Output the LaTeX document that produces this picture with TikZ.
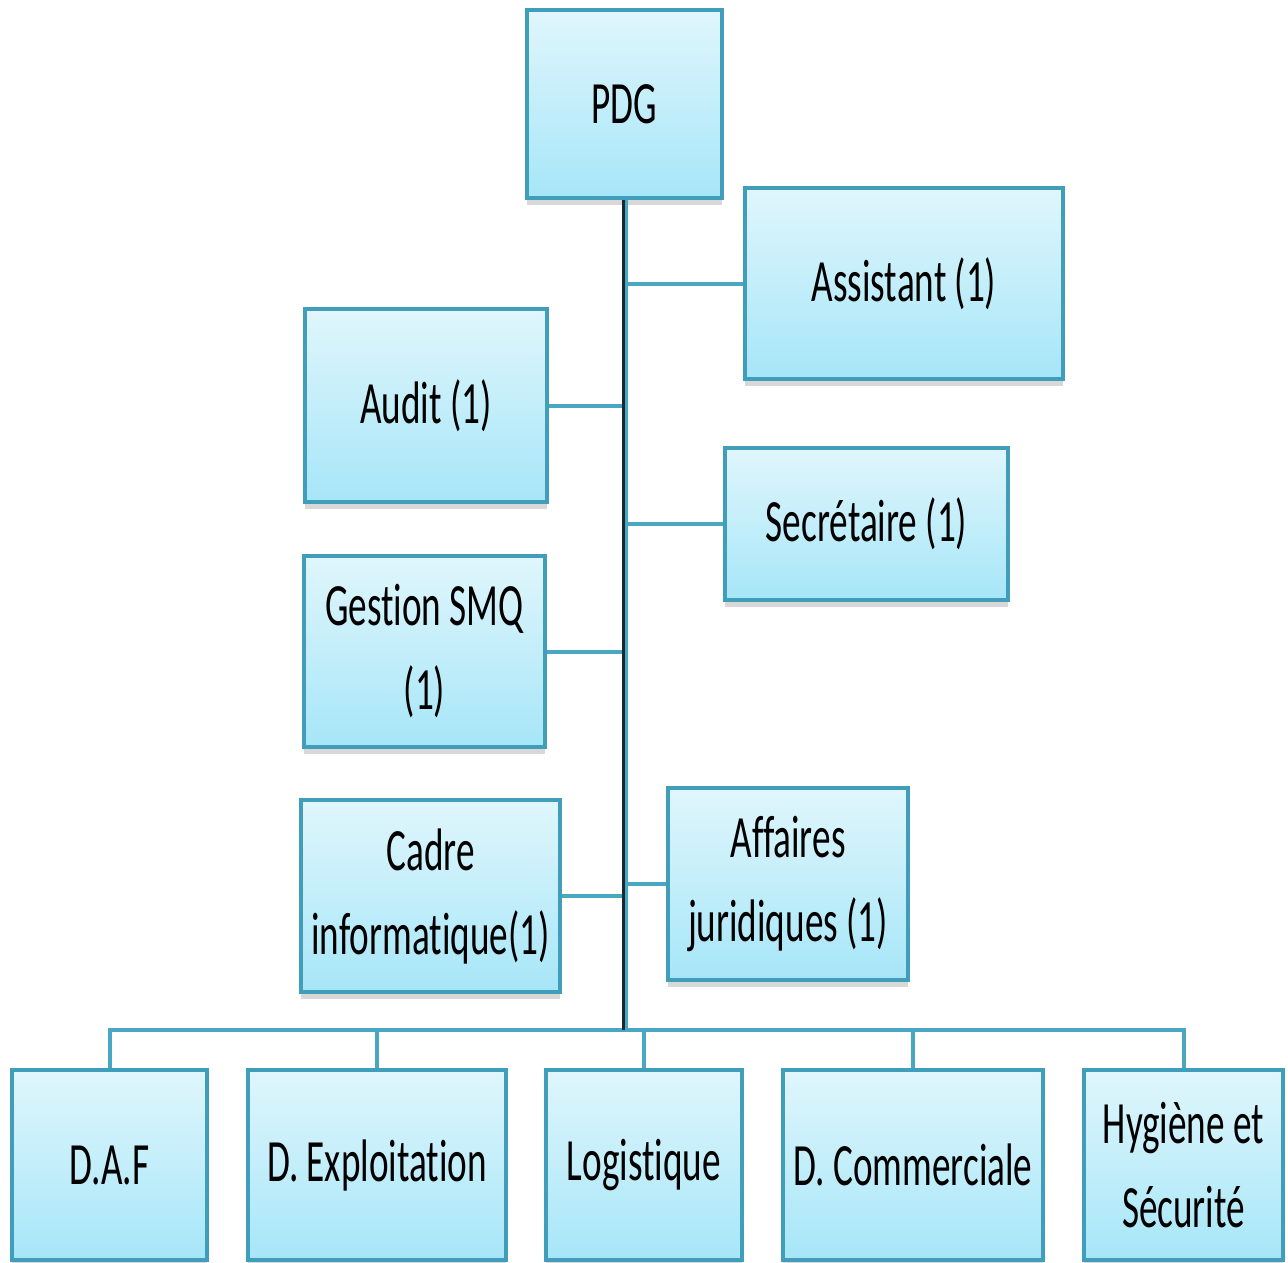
\documentclass[tikz,border=0pt]{standalone}
\usepackage{fontspec}
\newfontfamily\boxfont{Carlito}[FakeStretch=0.62, RawFeature=-liga]
\usetikzlibrary{shadows}
\definecolor{topc}{HTML}{E0F6FC}
\definecolor{botc}{HTML}{A6E6F8}
\definecolor{bordc}{RGB}{64,158,186}
\definecolor{linec}{RGB}{72,168,196}
\definecolor{trunkc}{RGB}{25,40,48}
\tikzset{
  box/.style={draw=bordc, line width=3.5pt, top color=topc, bottom color=botc,
    inner sep=0pt, align=center, text=black,
    font=\boxfont\fontsize{60}{84}\selectfont,
    drop shadow={shadow xshift=0pt, shadow yshift=-7pt, opacity=0.25, fill=black!60}},
  conn/.style={draw=linec, line width=4pt},
  trunkline/.style={draw=trunkc, line width=3.5pt},
}
\begin{document}
\begin{tikzpicture}[x=1pt,y=1pt]
\fill[white] (0,0) rectangle (1288,-1263);
\useasboundingbox (0,0) rectangle (1288,-1263);
\coordinate (bus) at (624.5,-1030);
\node[box, minimum width=195pt, minimum height=188pt] (pdg) at (624.5,-104) {PDG};
\node[box, minimum width=318pt, minimum height=191pt] (assist) at (904,-283.5) {Assistant (1)};
\node[box, minimum width=242pt, minimum height=193pt] (audit) at (426,-405.5) {Audit (1)};
\node[box, minimum width=283pt, minimum height=152pt] (secr) at (866.5,-524) {Secrétaire (1)};
\node[box, minimum width=241pt, minimum height=191pt] (smq) at (424.5,-651.5) {Gestion SMQ\\(1)};
\node[box, minimum width=259pt, minimum height=192pt] (cadre) at (430.5,-896) {Cadre\\informatique(1)};
\node[box, minimum width=240pt, minimum height=192pt] (jur) at (788,-884) {Affaires\\juridiques (1)};
\node[box, minimum width=195pt, minimum height=190pt] (daf) at (109.5,-1165) {D.A.F};
\node[box, minimum width=258pt, minimum height=190pt] (dexp) at (377,-1165) {D. Exploitation};
\node[box, minimum width=196pt, minimum height=190pt] (log) at (644,-1165) {Logistique};
\node[box, minimum width=260pt, minimum height=190pt] (dcom) at (913,-1165) {D. Commerciale};
\node[box, minimum width=199pt, minimum height=190pt] (hyg) at (1183.5,-1165) {Hygiène et\\Sécurité};
% side connectors
\draw[conn] (assist.west) -- (assist.west -| pdg.south);
\draw[conn] (audit.east) -- (audit.east -| pdg.south);
\draw[conn] (secr.west) -- (secr.west -| pdg.south);
\draw[conn] (smq.east) -- (smq.east -| pdg.south);
\draw[conn] (cadre.east) -- (cadre.east -| pdg.south);
\draw[conn] (jur.west) -- (jur.west -| pdg.south);
% bottom bus
\draw[conn] (daf.north) -- (daf.north |- bus) -- (hyg.north |- bus) -- (hyg.north);
\draw[conn] (dexp.north) -- (dexp.north |- bus);
\draw[conn] (log.north) -- (log.north |- bus);
\draw[conn] (dcom.north) -- (dcom.north |- bus);
% trunk
\draw[draw=linec, line width=6pt] (pdg.south) -- (bus);
\draw[trunkline] ([xshift=-1pt]pdg.south) -- ([xshift=-1pt]bus);
\end{tikzpicture}
\end{document}
